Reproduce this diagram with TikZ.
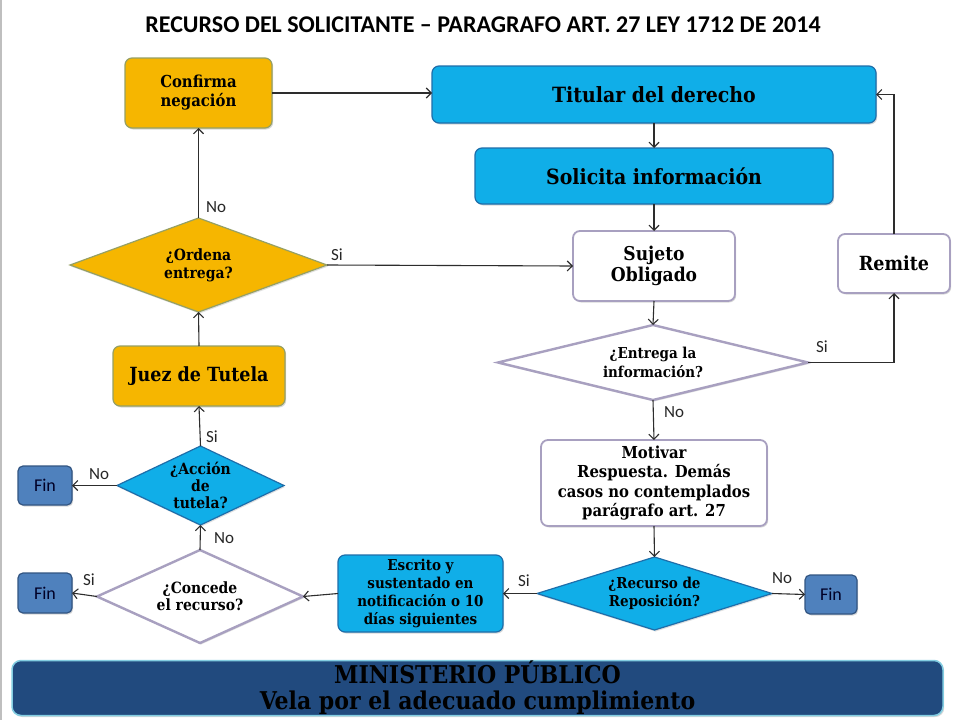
\documentclass[tikz,border=0pt]{standalone}
\usepackage{fontspec}
\setmainfont{DejaVu Serif Condensed}[BoldFont={DejaVu Serif Condensed Bold}]
\newfontfamily\calib{Carlito}
\usetikzlibrary{shapes.geometric,arrows.meta,shadows}
\definecolor{orng}{RGB}{246,182,0}
\definecolor{orngline}{RGB}{150,160,100}
\definecolor{cyanfill}{RGB}{16,174,232}
\definecolor{cyanline}{RGB}{30,110,170}
\definecolor{lav}{RGB}{168,160,192}
\definecolor{finfill}{RGB}{79,129,189}
\definecolor{finline}{RGB}{50,85,130}
\definecolor{barfill}{RGB}{33,74,126}
\definecolor{barline}{RGB}{130,205,225}
\definecolor{arrowc}{RGB}{45,45,45}
\tikzset{
 base/.style={rounded corners=7pt, align=center, text=black, inner sep=2pt, outer sep=0pt,
   drop shadow={opacity=0.3,shadow xshift=1.2pt,shadow yshift=-1.5pt}},
 orangebox/.style={base, fill=orng, draw=orngline, line width=1.2pt},
 bluebox/.style={base, fill=cyanfill, draw=cyanline, line width=1.2pt},
 whitebox/.style={base, fill=white, draw=lav, line width=1.8pt},
 finbox/.style={base, rounded corners=5pt, fill=finfill, draw=finline, line width=1.2pt,
   font=\calib\fontsize{18}{20}\selectfont, text=black!85!blue},
 dia/.style={diamond, inner sep=0pt, outer sep=0pt,
   drop shadow={opacity=0.25,shadow xshift=1pt,shadow yshift=-1.5pt}},
 orangedia/.style={dia, fill=orng, draw=orngline, line width=1.2pt},
 bluedia/.style={dia, fill=cyanfill, draw=cyanline, line width=1.2pt},
 whitedia/.style={dia, fill=white, draw=lav, line width=2.4pt},
 dtext/.style={align=center, inner sep=0pt, text=black},
 lbl/.style={font=\calib\fontsize{17}{19}\selectfont, inner sep=0pt, text=black!85},
 arr/.style={draw=arrowc, line width=1.1pt, -{Straight Barb[length=5pt,width=10pt,line width=1.1pt]}},
}
\begin{document}
\begin{tikzpicture}[x=1pt,y=-1pt]
\useasboundingbox (0,0) rectangle (960,720);
\fill[white] (0,0) rectangle (960,720);
\draw[gray!50, line width=2pt] (1,0) -- (1,720);

% title
\node[font=\calib\bfseries\fontsize{24}{26}\selectfont, inner sep=0pt] (title) at (483,25)
  {RECURSO DEL SOLICITANTE – PARAGRAFO ART. 27 LEY 1712 DE 2014};

% boxes
\node[orangebox, minimum width=147pt, minimum height=70pt, font=\bfseries\fontsize{16.5}{19}\selectfont] (conf) at (198.5,93) {Confirma\\negación};
\node[bluebox, minimum width=444pt, minimum height=57pt, font=\bfseries\fontsize{21}{23}\selectfont] (tit) at (654,94.5) {Titular del derecho};
\node[bluebox, minimum width=358pt, minimum height=56pt, font=\bfseries\fontsize{21}{23}\selectfont] (sol) at (654,176) {Solicita información};
\node[whitebox, minimum width=162pt, minimum height=70pt, font=\bfseries\fontsize{19}{21}\selectfont] (suj) at (654,266) {Sujeto\\Obligado};
\node[whitebox, minimum width=112pt, minimum height=59pt, font=\bfseries\fontsize{19.5}{21}\selectfont] (rem) at (894,263.5) {Remite};
\node[whitebox, minimum width=226pt, minimum height=86pt, font=\bfseries\fontsize{16.5}{19.5}\selectfont] (mot) at (654,483)
  {Motivar\\Respuesta. Demás\\casos no contemplados\\parágrafo art. 27};
\node[bluebox, minimum width=165pt, minimum height=77pt, font=\bfseries\fontsize{15}{18}\selectfont] (esc) at (420.5,593.5)
  {Escrito y\\sustentado en\\notificación o 10\\días siguientes};
\node[orangebox, minimum width=172pt, minimum height=60pt, font=\bfseries\fontsize{19.5}{21}\selectfont] (juez) at (199,376) {Juez de Tutela};

\node[finbox, minimum width=52pt, minimum height=39pt] (fin1) at (831,594.5) {Fin};
\node[finbox, minimum width=54pt, minimum height=40pt] (fin2) at (45,593) {Fin};
\node[finbox, minimum width=54pt, minimum height=39pt] (fin3) at (45,485.5) {Fin};

% diamonds
\node[whitedia, minimum width=310pt, minimum height=75pt] (ent) at (653,362.5) {};
\node[dtext, font=\bfseries\fontsize{15}{19}\selectfont] (entT) at (ent.center) {¿Entrega la\\información?};
\node[bluedia, minimum width=235pt, minimum height=73pt] (rec) at (654.5,593.5) {};
\node[dtext, font=\bfseries\fontsize{15}{18}\selectfont] (recT) at (rec.center) {¿Recurso de\\Reposición?};
\node[whitedia, minimum width=206pt, minimum height=93pt] (con) at (200,596.5) {};
\node[dtext, font=\bfseries\fontsize{15.5}{17}\selectfont] (conT) at (con.center) {¿Concede\\el recurso?};
\node[bluedia, minimum width=167pt, minimum height=79pt] (acc) at (200.5,485.5) {};
\node[dtext, font=\bfseries\fontsize{15.5}{17}\selectfont] (accT) at (acc.center) {¿Acción\\de\\tutela?};
\node[orangedia, minimum width=257pt, minimum height=94pt] (ord) at (198.5,265) {};
\node[dtext, font=\bfseries\fontsize{15.5}{18}\selectfont] (ordT) at (ord.center) {¿Ordena\\entrega?};

% bottom bar
\node[rounded corners=9pt, fill=barfill, draw=barline, line width=1.5pt, minimum width=931pt, minimum height=55pt,
  align=center, inner sep=0pt, font=\bfseries\fontsize{24.5}{26}\selectfont, text=black,
  drop shadow={opacity=0.3,shadow xshift=1.2pt,shadow yshift=-1.5pt}] (bar) at (477.5,688)
  {MINISTERIO PÚBLICO\\Vela por el adecuado cumplimiento};

% connectors
\draw[arr] (conf.east) -- (conf.east -| tit.west);
\draw[arr] (tit.south) -- (sol.north);
\draw[arr] (sol.south) -- (suj.north);
\draw[arr] (suj.south) -- (ent.north);
\draw[arr] (ent.east) -| (rem.south);
\draw[arr] (rem.north) |- (tit.east);
\draw[arr] (ent.south) -- (mot.north);
\draw[arr] (mot.south) -- (rec.north);
\draw[arr] (rec.west) -- (esc.east);
\draw[arr] (rec.east) -- (fin1.west);
\draw[arr] (esc.west) -- (con.east);
\draw[arr] (con.west) -- (fin2.east);
\draw[arr] (con.north) -- (acc.south);
\draw[arr] (acc.west) -- (fin3.east);
\draw[arr] (acc.north) -- (juez.south);
\draw[arr] (juez.north) -- (ord.south);
\draw[arr] (ord.north) -- (conf.south);
\draw[arr] (ord.east) -- (suj.west);

% labels
\node[lbl] (l1) at (822,347) {Si};
\node[lbl] (l2) at (674,412) {No};
\node[lbl] (l3) at (524,581) {Si};
\node[lbl] (l4) at (782,578) {No};
\node[lbl] (l5) at (89,580) {Si};
\node[lbl] (l6) at (224,538) {No};
\node[lbl] (l7) at (99,474) {No};
\node[lbl] (l8) at (212,437) {Si};
\node[lbl] (l9) at (216,207) {No};
\node[lbl] (l10) at (337,255) {Si};
\end{tikzpicture}
\end{document}
